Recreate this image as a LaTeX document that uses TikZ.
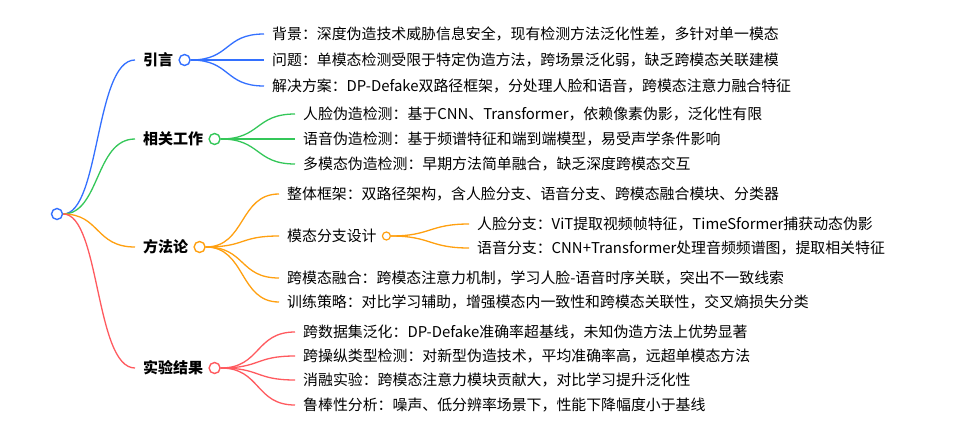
\documentclass[tikz,border=0pt]{standalone}
\usepackage{fontspec}
\setmainfont{Noto Sans CJK SC}
\usetikzlibrary{positioning}
\definecolor{cblue}{HTML}{3370FF}
\definecolor{cgreen}{HTML}{34C759}
\definecolor{corange}{HTML}{FFA010}
\definecolor{cred}{HTML}{FF5A5F}
\tikzset{
  knob/.style={circle,draw=#1,line width=1.4pt,fill=white,minimum size=11pt,inner sep=0pt},
  smallknob/.style={circle,draw=#1,line width=1.2pt,fill=white,minimum size=8pt,inner sep=0pt},
  head/.style={anchor=west,font=\fontsize{15}{17}\selectfont\bfseries,inner sep=0pt},
  leaf/.style={anchor=west,font=\fontsize{14.9}{16}\selectfont,inner sep=0pt},
  branch/.style={draw=#1,line width=1.3pt}
}
\begin{document}
\begin{tikzpicture}[x=1pt,y=-1pt]
\useasboundingbox[fill=white] (0,0) rectangle (960,428);

% Wurzel
\node[knob=cblue] (root) at (57,214) {};

% Ueberschriften
\node[head] (intro) at (143,60)  {引言};
\node[head] (rel)   at (143,139) {相关工作};
\node[head] (meth)  at (143,247) {方法论};
\node[head] (res)   at (143,368) {实验结果};
\node[knob=cblue]   (introK) [right=5pt of intro] {};
\node[knob=cgreen]  (relK)   [right=5pt of rel]   {};
\node[knob=corange] (methK)  [right=5pt of meth]  {};
\node[knob=cred]    (resK)   [right=5pt of res]   {};

\draw[branch=cblue]   (root.east) .. controls (100,214) and (95,60)  .. (135,60);
\draw[branch=cgreen]  (root.east) .. controls (100,214) and (95,139) .. (135,139);
\draw[branch=corange] (root.east) .. controls (100,214) and (95,247) .. (135,247);
\draw[branch=cred]    (root.east) .. controls (100,214) and (95,368) .. (135,368);

% Einleitung
\node[leaf] (i1) at (272,34) {背景：深度伪造技术威胁信息安全，现有检测方法泛化性差，多针对单一模态};
\node[leaf] (i2) at (272,60) {问题：单模态检测受限于特定伪造方法，跨场景泛化弱，缺乏跨模态关联建模};
\node[leaf] (i3) at (272,86) {解决方案：DP-Defake双路径框架，分处理人脸和语音，跨模态注意力融合特征};
\foreach \n in {i1,i2,i3}
  \draw[branch=cblue] (introK.east) .. controls +(40,0) and +(-40,0) .. ([xshift=-8pt]\n.west);

% verwandte Arbeiten
\node[leaf] (r1) at (303,114) {人脸伪造检测：基于CNN、Transformer，依赖像素伪影，泛化性有限};
\node[leaf] (r2) at (303,139) {语音伪造检测：基于频谱特征和端到端模型，易受声学条件影响};
\node[leaf] (r3) at (303,164) {多模态伪造检测：早期方法简单融合，缺乏深度跨模态交互};
\foreach \n in {r1,r2,r3}
  \draw[branch=cgreen] (relK.east) .. controls +(40,0) and +(-40,0) .. ([xshift=-8pt]\n.west);

% Methode
\node[leaf] (m1) at (287,194) {整体框架：双路径架构，含人脸分支、语音分支、跨模态融合模块、分类器};
\node[leaf] (m2) at (287,236) {模态分支设计};
\node[leaf] (m3) at (287,278) {跨模态融合：跨模态注意力机制，学习人脸-语音时序关联，突出不一致线索};
\node[leaf] (m4) at (287,302) {训练策略：对比学习辅助，增强模态内一致性和跨模态关联性，交叉熵损失分类};
\foreach \n in {m1,m2,m3,m4}
  \draw[branch=corange] (methK.east) .. controls +(40,0) and +(-40,0) .. ([xshift=-8pt]\n.west);
\node[smallknob=corange] (m2K) [right=5pt of m2] {};
\node[leaf] (s1) at (477,224) {人脸分支：ViT提取视频帧特征，TimeSformer捕获动态伪影};
\node[leaf] (s2) at (477,248) {语音分支：CNN+Transformer处理音频频谱图，提取相关特征};
\foreach \n in {s1,s2}
  \draw[branch=corange] (m2K.east) .. controls +(40,0) and +(-40,0) .. ([xshift=-8pt]\n.west);

% Ergebnisse
\node[leaf] (e1) at (303,332) {跨数据集泛化：DP-Defake准确率超基线，未知伪造方法上优势显著};
\node[leaf] (e2) at (303,356) {跨操纵类型检测：对新型伪造技术，平均准确率高，远超单模态方法};
\node[leaf] (e3) at (303,380) {消融实验：跨模态注意力模块贡献大，对比学习提升泛化性};
\node[leaf] (e4) at (303,405) {鲁棒性分析：噪声、低分辨率场景下，性能下降幅度小于基线};
\foreach \n in {e1,e2,e3,e4}
  \draw[branch=cred] (resK.east) .. controls +(40,0) and +(-40,0) .. ([xshift=-8pt]\n.west);

\end{tikzpicture}
\end{document}
